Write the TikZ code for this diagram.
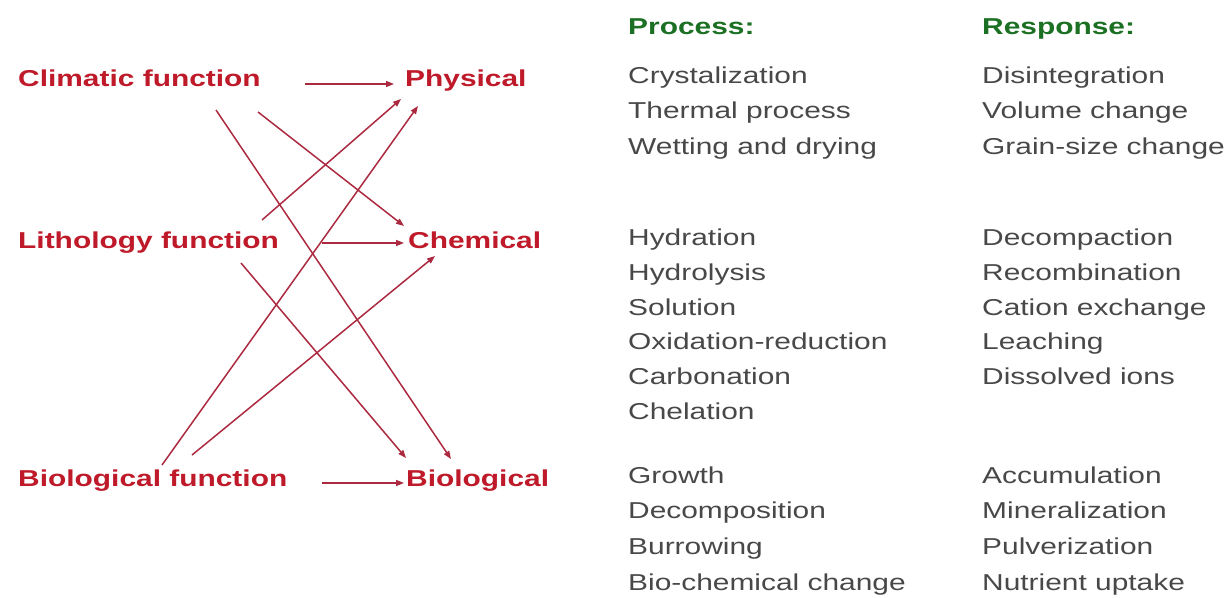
\documentclass[tikz,border=0pt]{standalone}
\usepackage{fontspec}
\setmainfont{Liberation Sans}[FakeStretch=1.3]
\usetikzlibrary{arrows.meta}
\definecolor{funcred}{RGB}{190,26,42}
\definecolor{linkred}{RGB}{172,42,64}
\definecolor{itemgray}{RGB}{72,72,72}
\definecolor{headgreen}{RGB}{28,112,36}
\tikzset{
  func/.style={anchor=base west, inner sep=0pt, text=funcred, font=\fontsize{23}{28}\selectfont\bfseries},
  item/.style={anchor=base west, inner sep=0pt, text=itemgray, font=\fontsize{23}{28}\selectfont},
  head/.style={anchor=base west, inner sep=0pt, text=headgreen, font=\fontsize{23}{28}\selectfont\bfseries},
  link/.style={draw=linkred, line width=1.5pt, -{Triangle[length=8pt,width=6pt]}}
}
\begin{document}
\begin{tikzpicture}[x=1pt,y=-1pt]
\useasboundingbox (0,0) rectangle (1228,597);
% Functions and the kinds of weathering
\node[func] (climatic) at (18,86) {Climatic function};
\node[func] (lithology) at (18,248) {Lithology function};
\node[func] (biofunc) at (18,486) {Biological function};
\node[func] (physical) at (405,86) {Physical};
\node[func] (chemical) at (408,248) {Chemical};
\node[func] (biological) at (406,486) {Biological};
% Column heads
\node[head] (process) at (628,34) {Process:};
\node[head] (response) at (982,34) {Response:};
% Process lists
\foreach \txt [count=\i] in {Crystalization, Thermal process, Wetting and drying}
  \node[item] (physproc\i) at (628,83.5+35.3*\i-35.3) {\txt};
\foreach \txt [count=\i] in {Hydration, Hydrolysis, Solution, Oxidation-reduction, Carbonation, Chelation}
  \node[item] (chemproc\i) at (628,245.5+34.8*\i-34.8) {\txt};
\foreach \txt [count=\i] in {Growth, Decomposition, Burrowing, Bio-chemical change}
  \node[item] (bioproc\i) at (628,483+35.8*\i-35.8) {\txt};
% Response lists
\foreach \txt [count=\i] in {Disintegration, Volume change, Grain-size change}
  \node[item] (physresp\i) at (982,83.5+35.3*\i-35.3) {\txt};
\foreach \txt [count=\i] in {Decompaction, Recombination, Cation exchange, Leaching, Dissolved ions}
  \node[item] (chemresp\i) at (982,245.5+34.8*\i-34.8) {\txt};
\foreach \txt [count=\i] in {Accumulation, Mineralization, Pulverization, Nutrient uptake}
  \node[item] (bioresp\i) at (982,483+35.8*\i-35.8) {\txt};
% Ends of the arrows
\coordinate (climA) at (216,110);
\coordinate (climB) at (258,112);
\coordinate (climC) at (305,84);
\coordinate (lithA) at (262,220);
\coordinate (lithB) at (241,263);
\coordinate (lithC) at (322,243);
\coordinate (bioA) at (162,465);
\coordinate (bioB) at (192,455);
\coordinate (bioC) at (322,483);
\coordinate (physA) at (401,99);
\coordinate (physB) at (418,106);
\coordinate (physC) at (394,84);
\coordinate (chemA) at (404,226);
\coordinate (chemB) at (435,256);
\coordinate (chemC) at (404,243);
\coordinate (biolA) at (406,458);
\coordinate (biolB) at (451,459);
\coordinate (biolC) at (404,483);
% Arrows
\draw[link] (climC) -- (physC);
\draw[link] (climA) -- (biolB);
\draw[link] (climB) -- (chemA);
\draw[link] (lithC) -- (chemC);
\draw[link] (lithA) -- (physA);
\draw[link] (lithB) -- (biolA);
\draw[link] (bioC) -- (biolC);
\draw[link] (bioA) -- (physB);
\draw[link] (bioB) -- (chemB);
\end{tikzpicture}
\end{document}
